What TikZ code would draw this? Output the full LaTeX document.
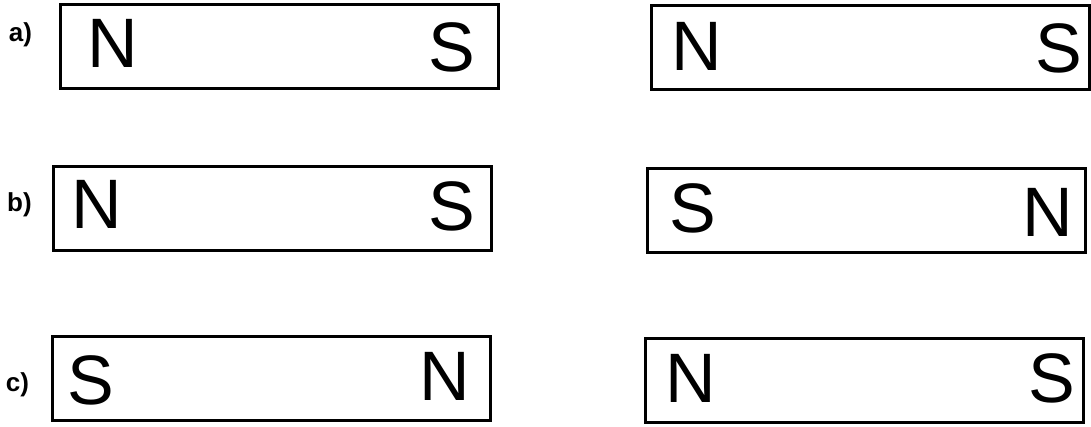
\documentclass[tikz,border=0pt]{standalone}
\usepackage{fontspec}
\setmainfont{Liberation Sans}
\usepackage{xcolor}

\begin{document}
\begin{tikzpicture}[x=1pt, y=-1pt, every node/.style={inner sep=0pt}]
  \tikzstyle{magnet}=[draw, line width=3pt, rectangle, minimum width=438pt, minimum height=84pt]
  \tikzstyle{pole}=[font=\fontsize{70}{80}\selectfont]
  \tikzstyle{tag}=[font=\fontsize{26}{30}\selectfont\bfseries]
  \useasboundingbox (0,0) rectangle (1091,426);
  % row a
  \node[tag] (la) at (20.5, 35) {a)};
  \node[magnet] (a1) at (279, 46) {};
  \node[magnet] (a2) at (870.5, 47.5) {};
  \node[pole] (a1n) at (112.5, 43.5) {N};
  \node[pole] (a1s) at (451.5, 47.5) {S};
  \node[pole] (a2n) at (696.5, 46.5) {N};
  \node[pole] (a2s) at (1059, 48) {S};
  % row b
  \node[tag] (lb) at (19.5, 205) {b)};
  \node[magnet] (b1) at (272.5, 208) {};
  \node[magnet] (b2) at (866, 210) {};
  \node[pole] (b1n) at (97, 204) {N};
  \node[pole] (b1s) at (451.5, 206.5) {S};
  \node[pole] (b2s) at (693, 208) {S};
  \node[pole] (b2n) at (1047.5, 212.5) {N};
  % row c
  \node[tag] (lc) at (17.5, 385) {c)};
  \node[magnet] (c1) at (271, 378.5) {};
  \node[magnet] (c2) at (864.5, 380) {};
  \node[pole] (c1s) at (91, 380) {S};
  \node[pole] (c1n) at (444.5, 376.5) {N};
  \node[pole] (c2n) at (691, 378) {N};
  \node[pole] (c2s) at (1052, 378) {S};
\end{tikzpicture}
\end{document}
